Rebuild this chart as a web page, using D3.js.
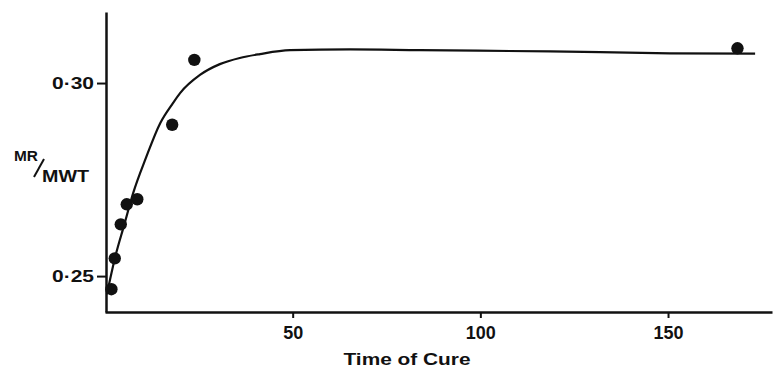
<!DOCTYPE html>
<html>
<head>
<meta charset="utf-8">
<script src="https://cdn.jsdelivr.net/npm/d3@7"></script>
<style>
  html, body { margin: 0; padding: 0; background: #fff; }
  svg { display: block; }
  text { font-family: "Liberation Sans", Arial, Helvetica, sans-serif; fill: #111; }
</style>
</head>
<body>
<svg id="chart" width="775" height="372"></svg>
<script>
// Measured points (time of cure, MR/MWT)
const cureTime = [1.7, 2.6, 4.2, 5.8, 8.6, 17.9, 23.8, 168.5];
const ratio    = [0.2466, 0.2546, 0.2634, 0.2686, 0.2699, 0.2892, 0.3060, 0.3090];

// Fitted curve
const curveTime  = [0.5, 2.7, 5.1, 7.5, 10.9, 14.7, 18.1, 20.0, 25.3, 30.6, 35.9, 41.3, 49.3, 65.3, 83.9, 118.6, 150.5, 173.2];
const curveRatio = [0.2453, 0.2549, 0.2632, 0.2715, 0.2806, 0.2896, 0.2948, 0.2974, 0.3021, 0.3049, 0.3065, 0.3075, 0.3085, 0.3087, 0.3085, 0.3082, 0.3077, 0.3076];

const xTicks = [50, 100, 150];
const xTickLabels = ["50", "100", "150"];
const yTicks = [0.25, 0.30];
const yTickLabels = ["0·25", "0·30"];

const xTitle = "Time of Cure";

const svg = d3.select("#chart");

const x = d3.scaleLinear().domain([0, 177.7]).range([105, 772]);
const y = d3.scaleLinear().domain([0.2407, 0.3184]).range([312, 12]);

// Axes
const xAxis = d3.axisBottom(x)
  .tickValues(xTicks)
  .tickFormat((d, i) => xTickLabels[i])
  .tickSize(6)
  .tickSizeOuter(0)
  .tickPadding(8);

const gx = svg.append("g").attr("transform", `translate(0,${y.range()[0]})`).call(xAxis);
gx.select(".domain").attr("stroke", "#111").attr("stroke-width", 2.5);
gx.selectAll(".tick line").attr("stroke", "#111").attr("stroke-width", 2);
gx.selectAll(".tick text")
  .attr("font-size", 18)
  .attr("font-weight", "bold")
  .attr("font-family", "'Liberation Sans', Arial, sans-serif")
  .attr("fill", "#111");

const yAxis = d3.axisLeft(y)
  .tickValues(yTicks)
  .tickFormat((d, i) => yTickLabels[i])
  .tickSize(9)
  .tickSizeOuter(0)
  .tickPadding(3);

const gy = svg.append("g").attr("transform", `translate(${x.range()[0] + 1},0)`).call(yAxis);
gy.select(".domain").attr("stroke", "#111").attr("stroke-width", 2.5);
gy.selectAll(".tick line").attr("stroke", "#111").attr("stroke-width", 2);
gy.selectAll(".tick text")
  .attr("font-size", 17)
  .attr("font-weight", "bold")
  .attr("font-family", "'Liberation Sans', Arial, sans-serif")
  .attr("fill", "#111")
  .attr("textLength", 42)
  .attr("lengthAdjust", "spacingAndGlyphs");

// Curve
const curveData = curveTime.map((t, i) => ({ t, v: curveRatio[i] }));
const line = d3.line()
  .x(d => x(d.t))
  .y(d => y(d.v))
  .curve(d3.curveMonotoneX);

svg.append("path")
  .datum(curveData)
  .attr("d", line)
  .attr("fill", "none")
  .attr("stroke", "#111")
  .attr("stroke-width", 2.2);

// Points
const pts = cureTime.map((t, i) => ({ t, v: ratio[i] }));
svg.append("g").selectAll("circle")
  .data(pts)
  .join("circle")
  .attr("cx", d => x(d.t))
  .attr("cy", d => y(d.v))
  .attr("r", 6.2)
  .attr("fill", "#111");

// X title
svg.append("text")
  .attr("x", 407)
  .attr("y", 365)
  .attr("text-anchor", "middle")
  .attr("font-size", 16)
  .attr("font-weight", "bold")
  .attr("textLength", 127)
  .attr("lengthAdjust", "spacingAndGlyphs")
  .text(xTitle);

// Y title: MR / MWT
const yt = svg.append("g");
yt.append("text")
  .attr("x", 14)
  .attr("y", 161)
  .attr("font-size", 14)
  .attr("font-weight", "bold")
  .attr("textLength", 24)
  .attr("lengthAdjust", "spacingAndGlyphs")
  .text("MR");
yt.append("line")
  .attr("x1", 44).attr("y1", 159)
  .attr("x2", 34).attr("y2", 177)
  .attr("stroke", "#111")
  .attr("stroke-width", 2);
yt.append("text")
  .attr("x", 42)
  .attr("y", 182)
  .attr("font-size", 16)
  .attr("font-weight", "bold")
  .attr("textLength", 47)
  .attr("lengthAdjust", "spacingAndGlyphs")
  .text("MWT");
</script>
</body>
</html>
